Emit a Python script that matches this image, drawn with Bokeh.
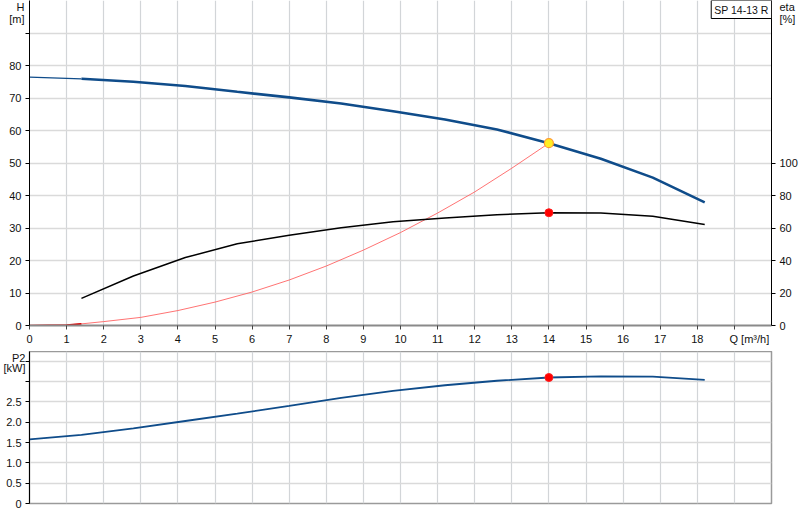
from bokeh.plotting import figure
from bokeh.models import Range1d, LinearAxis, FixedTicker, Label, GlobalInlineStyleSheet
from bokeh.layouts import column
from bokeh.embed import file_html
from bokeh.resources import INLINE

# ---------------- data ----------------
q_pts = [0, 1.4, 2.8, 4.2, 5.6, 7.0, 8.4, 9.8, 11.2, 12.6, 14.0, 15.4, 16.8, 18.2]
head_m = [76.4, 75.9, 75.0, 73.7, 71.9, 70.2, 68.3, 65.9, 63.4, 60.3, 56.1, 51.3, 45.5, 37.9]
power_kw = [1.58, 1.69, 1.85, 2.03, 2.21, 2.40, 2.60, 2.77, 2.91, 3.02, 3.10, 3.13, 3.12, 3.04]
eta_q = [1.4, 2.8, 4.2, 5.6, 7.0, 8.4, 9.8, 11.2, 12.6, 14.0, 15.4, 16.8, 18.2]
eta_pct = [16.7, 30.5, 41.8, 50.3, 55.6, 60.1, 63.8, 66.2, 68.2, 69.4, 69.2, 67.3, 62.2]
sys_q = [0, 1, 1.4, 2, 3, 4, 5, 6, 7, 8, 9, 10, 11, 12, 13, 14]
sys_h = [0, 0.15, 0.5, 1.2, 2.5, 4.6, 7.2, 10.3, 14.0, 18.3, 23.2, 28.6, 34.6, 41.1, 48.4, 56.1]
duty_q = 14.0
duty_h = 56.1
duty_eta = 69.4
duty_p2 = 3.10

q_ticks = list(range(0, 20))
q_tick_labels = [str(i) for i in range(0, 19)]
q_title = "Q [m³/h]"
h_ticks = [0, 10, 20, 30, 40, 50, 60, 70, 80, 90]
h_tick_labels = ["0", "10", "20", "30", "40", "50", "60", "70", "80", ""]
h_title = ["H", "[m]"]
eta_ticks = [0, 20, 40, 60, 80, 100]
eta_title = ["eta", "[%]"]
p2_ticks = [0, 0.5, 1.0, 1.5, 2.0, 2.5, 3.0, 3.5]
p2_tick_labels = ["0", "0.5", "1.0", "1.5", "2.0", "2.5", "", ""]
p2_title = ["P2", "[kW]"]
pump_name = "SP 14-13 R"

FONT = "Liberation Sans"
FS = "11px"
BLUE = "#0f4c8a"
TXT = "#111111"


def text_style(ax, standoff):
    ax.major_label_standoff = standoff
    ax.major_label_text_font = FONT
    ax.major_label_text_font_size = FS
    ax.major_label_text_color = TXT
    ax.minor_tick_line_color = None


def tick_axis(ax, ticks, labels, standoff=4, line_color="black", line_width=1):
    ax.ticker = FixedTicker(ticks=ticks)
    ax.major_label_overrides = {t: s for t, s in zip(ticks, labels)}
    ax.axis_line_color = line_color
    ax.axis_line_width = line_width
    ax.major_tick_line_color = "black"
    ax.major_tick_in = 0
    ax.major_tick_out = 4
    text_style(ax, standoff)


def title_axis(ax, pos, labels, standoff):
    """outer axis holding only the two-line axis title, pulled back next to the frame"""
    ax.ticker = FixedTicker(ticks=pos)
    ax.major_label_overrides = {t: s for t, s in zip(pos, labels)}
    ax.axis_line_color = None
    ax.major_tick_line_color = None
    ax.major_tick_in = 0
    ax.major_tick_out = 0
    text_style(ax, standoff)


# ---------------- top figure ----------------
p1 = figure(width=800, height=351, output_backend="svg", toolbar_location=None,
            x_range=Range1d(0, 20), y_range=Range1d(0, 100),
            min_border_left=29, min_border_right=27, min_border_top=0, min_border_bottom=26)
p1.outline_line_color = None
p1.background_fill_color = "white"
p1.border_fill_color = "white"
p1.extra_y_ranges = {"eta": Range1d(0, 200)}

h_per_px = 100 / 325.0
eta_per_px = 200 / 325.0
q_per_px = 20 / 744.0

# bottom axis: labels on major ticks (no marks), marks on minor ticks
xa = p1.xaxis[0]
xa.ticker = FixedTicker(ticks=q_ticks[:19] + [19 + 15 * q_per_px], minor_ticks=q_ticks)
xa.major_label_overrides = {t: s for t, s in zip(q_ticks[:19] + [19 + 15 * q_per_px],
                                                  q_tick_labels + [q_title])}
xa.axis_line_color = "#8a8a8a"
xa.axis_line_width = 2
xa.major_tick_line_color = None
xa.major_tick_out = 0
xa.major_tick_in = 0
text_style(xa, 3)
xa.minor_tick_line_color = "#444444"
xa.minor_tick_in = 0
xa.minor_tick_out = 4

tick_axis(p1.yaxis[0], h_ticks, h_tick_labels)
yt = LinearAxis()
title_axis(yt, [100 - 6 * h_per_px, 100 - 18 * h_per_px], h_title, -18)
p1.add_layout(yt, "left")

eta_axis = LinearAxis(y_range_name="eta")
tick_axis(eta_axis, eta_ticks, [str(t) for t in eta_ticks])
p1.add_layout(eta_axis, "right")
et = LinearAxis(y_range_name="eta")
title_axis(et, [200 - 6 * eta_per_px, 200 - 18 * eta_per_px], eta_title, -21)
p1.add_layout(et, "right")

p1.xgrid.ticker = FixedTicker(ticks=list(range(0, 21)))
p1.xgrid.grid_line_color = "#d2d5d8"
p1.xgrid.grid_line_width = 1.2
p1.ygrid.ticker = FixedTicker(ticks=h_ticks)
p1.ygrid.grid_line_color = "#dadada"
p1.ygrid.grid_line_width = 1.6

# system curve (red)
p1.line(sys_q, sys_h, line_color="#ff5a5a", line_width=1, line_alpha=0.85)
p1.line(sys_q[:3], sys_h[:3], line_color="#d40000", line_width=1.6)
# efficiency
p1.line(eta_q, eta_pct, y_range_name="eta", line_color="black", line_width=1.5)
# head
p1.line(q_pts[:2], head_m[:2], line_color=BLUE, line_width=1.3)
p1.line(q_pts[1:], head_m[1:], line_color=BLUE, line_width=2.6)
p1.scatter([duty_q], [duty_eta], y_range_name="eta", size=8, fill_color="#ff0000", line_color="#ff2020")
p1.scatter([duty_q], [duty_h], size=9, fill_color="#ffee22", line_color="#ff9a30", line_width=1.2)

box = Label(x=20, y=100, text=pump_name, text_font=FONT, text_font_size="10.5px",
            text_color=TXT, text_align="right", text_baseline="top",
            background_fill_color="white", border_line_color="black", border_line_width=1,
            padding=3)
p1.add_layout(box)

# ---------------- bottom figure ----------------
p2 = figure(width=800, height=162, output_backend="svg", toolbar_location=None,
            x_range=Range1d(0, 20), y_range=Range1d(0, 3.74),
            min_border_left=29, min_border_right=27, min_border_top=0, min_border_bottom=10)
p2.outline_line_color = "#9a9a9a"
p2.outline_line_width = 1.5
p2.xaxis.visible = False
p_per_px = 3.74 / 152.0
tick_axis(p2.yaxis[0], p2_ticks, p2_tick_labels)
pt = LinearAxis()
title_axis(pt, [3.74 - 5 * p_per_px, 3.74 - 16 * p_per_px], p2_title, -22)
p2.add_layout(pt, "left")

p2.xgrid.ticker = FixedTicker(ticks=list(range(0, 21)))
p2.xgrid.grid_line_color = "#d2d5d8"
p2.xgrid.grid_line_width = 1.2
p2.ygrid.ticker = FixedTicker(ticks=p2_ticks)
p2.ygrid.grid_line_color = "#dadada"
p2.ygrid.grid_line_width = 1.6

p2.line(q_pts, power_kw, line_color=BLUE, line_width=1.8)
p2.scatter([duty_q], [duty_p2], size=8, fill_color="#ff0000", line_color="#ff2020")

layout = column(p1, p2, spacing=0)
layout.stylesheets = [GlobalInlineStyleSheet(css="body { margin: 0; }")]

open("out.html", "w").write(file_html(layout, INLINE))
